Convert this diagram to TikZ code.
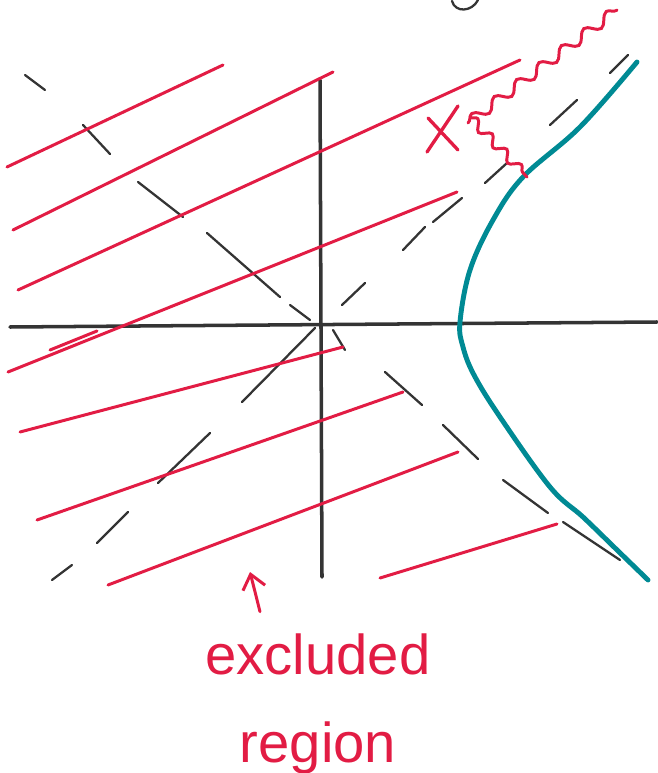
\documentclass[tikz,border=0pt]{standalone}
\usepackage{fontspec}
\setmainfont{Liberation Sans}
\usetikzlibrary{arrows.meta,decorations.pathmorphing,positioning}
\definecolor{inkred}{RGB}{226,28,68}
\definecolor{inkteal}{RGB}{0,138,148}
\definecolor{inkgray}{RGB}{52,52,52}
\tikzset{
  axis/.style={line width=2pt, inkgray, line cap=round},
  asymptote/.style={line width=1.3pt, inkgray, line cap=round},
  excluded/.style={line width=1.7pt, inkred, line cap=round},
  hyper/.style={line width=2.8pt, inkteal, line cap=round, line join=round},
  wiggle/.style={excluded, decorate, decoration={snake, amplitude=3pt, segment length=16pt}},
}

\begin{document}
\begin{tikzpicture}[x=0.02cm, y=-0.02cm]
  \useasboundingbox (0,0) rectangle (657,773);

  % Axes
  \draw[axis] (10,327) -- (657,322);
  \draw[axis] (320,80) -- (322,577);

  % Asymptotes, dashed by hand
  \foreach \xa/\ya/\xb/\yb in {25/75/45/90, 83/125/110/154, 138/182/183/217,
      207/233/280/297, 290/305/310/320, 333/330/345/350, 385/372/422/405,
      443/425/478/459, 503/480/548/513, 563/522/620/560,
      342/305/365/283, 403/250/425/227, 433/222/462/198, 485/183/507/163,
      550/125/577/100, 610/73/628/55,
      242/402/315/328, 158/483/210/433, 97/543/128/512, 52/580/72/565} {
    \draw[asymptote] (\xa,\ya) -- (\xb,\yb);
  }

  % Excluded region: red hatching
  \foreach \xa/\ya/\xb/\yb in {7/167/223/65, 13/230/333/72, 18/290/520/60,
      8/372/457/192, 50/350/97/331, 20/432/343/347, 37/520/403/392,
      108/585/458/452, 380/578/557/524} {
    \draw[excluded] (\xa,\ya) -- (\xb,\yb);
  }

  % Hyperbola branch
  \draw[hyper] plot[smooth, tension=0.6] coordinates {
    (637,62) (580,127) (523,177) (493,220) (470,270) (460,322) (463,347)
    (474,375) (500,417) (550,487) (583,517) (615,548) (648,580)};

  % Wavy line and the cross
  \coordinate (wavestart) at (468,123);
  \coordinate (waveend) at (617,10);
  \coordinate (wavefoot) at (527,177);
  \draw[wiggle] (wavestart) -- (waveend);
  \draw[wiggle, decoration={snake, amplitude=2.6pt, segment length=12pt}] (470,117) -- (wavefoot);
  \draw[excluded, line width=1.9pt] (428,118) -- (458,150);
  \draw[excluded, line width=1.9pt] (458,106) -- (427,152);

  % Cut-off letter at the top
  \draw[asymptote] (452,1) .. controls (455,13) and (472,12) .. (478,0);

  % Label
  \node[inkred, font=\fontsize{32}{50}\selectfont, align=center] (lbl) at (318,704)
    {excluded\\region};
  \coordinate (tip) at (250,572);
  \draw[excluded, -{Straight Barb[length=8pt, width=13pt]}] (lbl.north) ++(-58,-16) -- (tip);
\end{tikzpicture}
\end{document}
